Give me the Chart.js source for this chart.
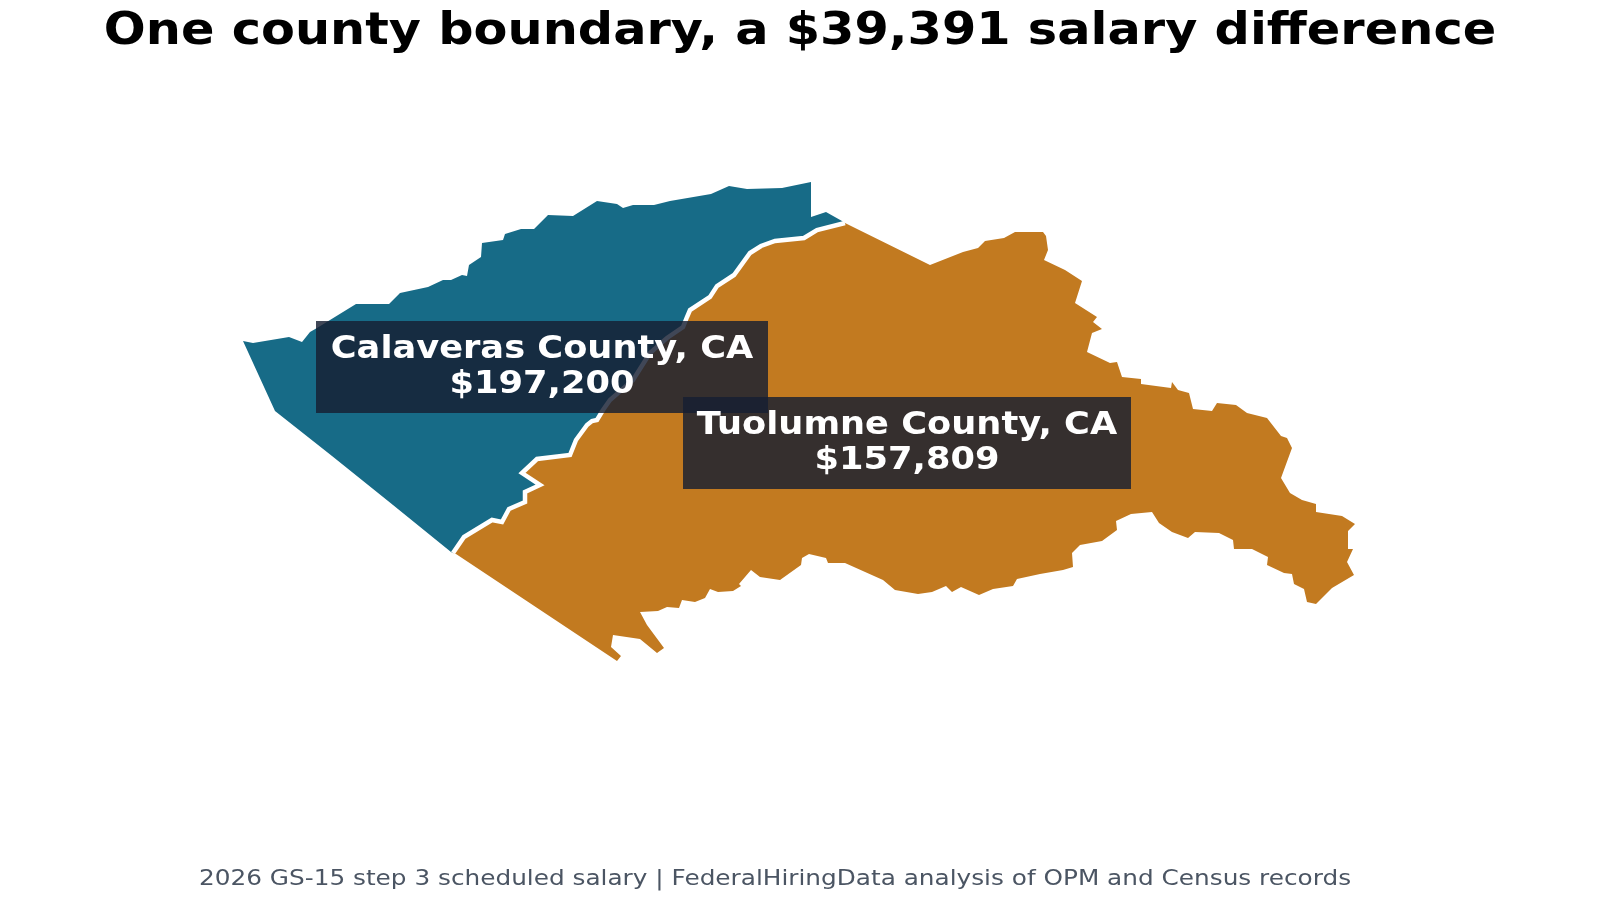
<!DOCTYPE html>
<html>
<head>
<meta charset="utf-8">
<title>One county boundary</title>
<script src="https://cdn.jsdelivr.net/npm/chart.js@4"></script>
<style>
  html, body { margin: 0; padding: 0; background: #fff; }
  canvas { display: block; }
</style>
</head>
<body>
<canvas id="myChart" width="1600" height="900"></canvas>
<script>
// map outlines, in map units (x east, y south)
const calaverasEdge = [[243,341],[253,343],[289,337],[302,342],[310,332],[317,328],[356,304],[389,304],[400,293],[428,287],[443,280],[451,280],[462,275],[467,276],[469,265],[481,257],[482,243],[503,240],[505,234],[521,229],[534,229],[548,215],[573,216],[597,201],[617,204],[623,208],[633,205],[654,205],[670,201],[711,194],[729,186],[747,189],[782,188],[811,182],[811,217],[826,212],[842,221]];
const calaverasSouthEdge = [[451,552],[393,505],[332,456],[275,411]];
const tuolumneEdge = [[847,224],[930,265],[963,252],[978,248],[985,241],[1004,238],[1015,232],[1043,232],[1046,236],[1048,250],[1044,260],[1065,270],[1082,281],[1075,303],[1097,317],[1093,322],[1102,329],[1092,333],[1087,352],[1110,363],[1117,362],[1122,377],[1141,379],[1141,384],[1171,388],[1172,382],[1178,390],[1189,393],[1193,409],[1212,411],[1217,403],[1236,405],[1247,413],[1267,418],[1281,436],[1287,438],[1292,448],[1281,478],[1290,493],[1302,500],[1316,504],[1316,512],[1342,516],[1355,524],[1348,531],[1348,549],[1353,549],[1347,562],[1354,575],[1332,588],[1316,604],[1307,602],[1304,589],[1294,584],[1292,574],[1284,573],[1267,565],[1268,557],[1252,549],[1234,549],[1233,540],[1219,533],[1195,532],[1188,538],[1172,532],[1159,523],[1152,512],[1131,514],[1116,521],[1117,530],[1102,541],[1080,545],[1072,553],[1073,567],[1063,570],[1040,574],[1017,579],[1013,586],[993,589],[979,595],[961,587],[952,592],[946,586],[932,592],[918,594],[895,590],[883,580],[845,563],[828,563],[826,558],[809,554],[802,558],[801,565],[780,580],[760,577],[751,570],[739,584],[741,586],[733,591],[718,592],[710,589],[705,598],[695,602],[682,600],[679,608],[667,607],[658,611],[640,612],[647,625],[664,648],[657,653],[640,639],[613,635],[611,647],[621,656],[617,661],[456,554]];
const sharedBoundary = [[453,553],[464,537],[492,520],[502,522],[509,509],[525,502],[525,492],[540,485],[522,473],[537,459],[570,455],[576,440],[587,425],[592,421],[597,420],[603,410],[610,400],[633,380],[650,353],[667,338],[683,327],[687,317],[690,310],[710,297],[717,286],[734,275],[750,253],[761,246],[775,241],[804,238],[817,230],[845,223]];

const counties = ["Calaveras County, CA", "Tuolumne County, CA"];
const salaries = ["$197,200", "$157,809"];
const labelCentres = [[542,367],[907,443]];

const titleText = "One county boundary, a $39,391 salary difference";
const footerText = "2026 GS-15 step 3 scheduled salary | FederalHiringData analysis of OPM and Census records";

const toPoints = (pairs) => pairs.map(([x, y]) => ({ x, y }));
const closed = (pairs) => toPoints([...pairs, pairs[0]]);

const calaveras = closed([...calaverasEdge, ...[...sharedBoundary].reverse(), ...calaverasSouthEdge]);
const tuolumne = closed([...tuolumneEdge, ...sharedBoundary]);

// the reference text is wider than the plain font, so stretch it sideways
function wideText(c, text, x, y, stretch) {
  c.save();
  c.translate(x, y);
  c.scale(stretch, 1);
  c.fillText(text, 0, 0);
  c.restore();
}

const labelPlugin = {
  id: 'labelPlugin',
  afterDraw(chart) {
    const { ctx, scales } = chart;
    ctx.save();
    ctx.textAlign = 'center';
    ctx.textBaseline = 'alphabetic';

    ctx.fillStyle = '#000000';
    ctx.font = 'bold 44px "DejaVu Sans"';
    wideText(ctx, titleText, 800, 44, 1.1225);

    labelCentres.forEach(([x, y], i) => {
      const cx = scales.x.getPixelForValue(x);
      const cy = scales.y.getPixelForValue(y);
      const w = i === 0 ? 452 : 448;
      ctx.fillStyle = 'rgba(22,31,50,0.82)';
      ctx.fillRect(cx - w / 2, cy - 46, w, 92);
      ctx.fillStyle = '#ffffff';
      ctx.font = 'bold 32px "DejaVu Sans"';
      wideText(ctx, counties[i], cx, cy - 9.5, 1.1);
      wideText(ctx, salaries[i], cx, cy + 26, 1.1);
    });

    ctx.fillStyle = '#4b5563';
    ctx.font = '22px "DejaVu Sans"';
    wideText(ctx, footerText, 775, 885, 1.125);
    ctx.restore();
  }
};

const ctx = document.getElementById('myChart').getContext('2d');
const myChart = new Chart(ctx, {
  type: 'scatter',
  data: {
    datasets: [
      // first dataset is painted last, so the white line sits on top
      { label: 'Boundary', data: toPoints(sharedBoundary), borderColor: '#ffffff', borderWidth: 4.5, showLine: true, fill: false, pointRadius: 0 },
      { label: 'Calaveras', data: calaveras, backgroundColor: '#176b87', borderWidth: 0, showLine: true, fill: 'shape', pointRadius: 0 },
      { label: 'Tuolumne', data: tuolumne, backgroundColor: '#c27a20', borderWidth: 0, showLine: true, fill: 'shape', pointRadius: 0 }
    ]
  },
  options: {
    responsive: false,
    animation: false,
    devicePixelRatio: 1,
    layout: { padding: 0 },
    plugins: {
      legend: { display: false },
      tooltip: { enabled: false },
      title: { display: false }
    },
    scales: {
      x: { type: 'linear', min: 0, max: 1600, display: false },
      y: { type: 'linear', min: 0, max: 900, reverse: true, display: false }
    }
  },
  plugins: [labelPlugin]
});
</script>
</body>
</html>
